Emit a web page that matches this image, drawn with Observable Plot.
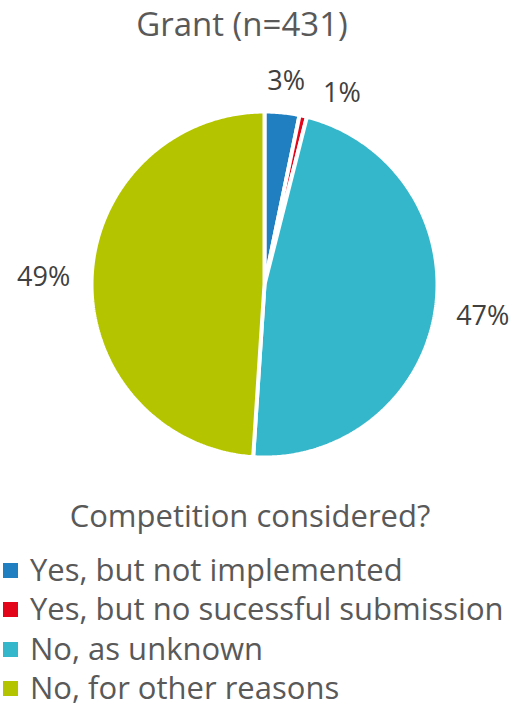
<!DOCTYPE html>
<html>
<head>
<meta charset="utf-8">
<script src="https://cdn.jsdelivr.net/npm/d3@7"></script>
<script src="https://cdn.jsdelivr.net/npm/@observablehq/plot@0.6"></script>
<style>
  html, body { margin: 0; padding: 0; background: #fff; }
  body { width: 513px; height: 707px; overflow: hidden; font-family: "Open Sans", sans-serif; color: #595959; }
  #title { height: 55px; text-align: center; font-size: 33px; line-height: 48px; padding-right: 29px; box-sizing: border-box; white-space: nowrap; }
  #legend { position: relative; }
  #legend .lt { text-align: center; font-size: 31px; line-height: 40px; padding-right: 13px; white-space: nowrap; margin-bottom: 15px; }
  #legend .row { font-size: 31px; line-height: 39.3px; white-space: nowrap; position: relative; padding-left: 30px; }
  #legend .sw { position: absolute; left: 3px; top: 13px; width: 15px; height: 15px; }
  svg { display: block; }
</style>
</head>
<body>
<div id="title"></div>
<div id="chart"></div>
<div id="legend"></div>
<script>
const chartTitle = "Grant (n=431)";
const legendTitle = "Competition considered?";
const categories = ["Yes, but not implemented", "Yes, but no sucessful submission", "No, as unknown", "No, for other reasons"];
const counts = [14, 3, 203, 211];
const colors = ["#1f7fc1", "#e3061b", "#34b7ca", "#b4c500"];

const total = d3.sum(counts);
const arcs = d3.pie().sort(null).value(d => d)(counts);

// slice outlines as polygons (center + sampled arc)
const slicePts = [];
arcs.forEach((a, i) => {
  const cat = categories[i];
  slicePts.push({cat, x: 0, y: 0});
  const n = Math.max(2, Math.ceil((a.endAngle - a.startAngle) / 0.01));
  for (let k = 0; k <= n; k++) {
    const t = a.startAngle + (a.endAngle - a.startAngle) * k / n;
    slicePts.push({cat, x: Math.sin(t), y: Math.cos(t)});
  }
  slicePts.push({cat, x: 0, y: 0});
});

// label placement: outside end, box edge a fixed gap beyond the rim
const Rpx = 173, gap = 21, fs = 27;
const labels = arcs.map((a, i) => {
  const m = (a.startAngle + a.endAngle) / 2;
  const text = Math.round(counts[i] / total * 100) + "%";
  const hw = text.length * 0.333 * fs, hh = 10;
  const s = Math.sin(m), c = Math.cos(m);
  return {
    cat: categories[i], text,
    x: (s * (Rpx + gap + hw)) / Rpx,
    y: (c * (Rpx + gap + hh)) / Rpx,
    small: counts[i] / total < 0.02
  };
});

document.getElementById("title").textContent = chartTitle;

const W = 513, H = 440;
const plot = Plot.plot({
  width: W, height: H,
  marginLeft: 91, marginRight: 76, marginTop: 56, marginBottom: 38,
  x: {domain: [-1, 1], axis: null},
  y: {domain: [-1, 1], axis: null},
  color: {domain: categories, range: colors},
  style: {fontFamily: "Open Sans, sans-serif", color: "#595959", background: "#fff"},
  marks: [
    Plot.line(slicePts, {x: "x", y: "y", z: "cat", fill: "cat", stroke: "white", strokeWidth: 4, strokeLinejoin: "miter", curve: "linear"}),
    Plot.text(labels.filter(d => !d.small), {x: "x", y: "y", text: "text", fontSize: fs, fill: "#404040"}),
    Plot.text(labels.filter(d => d.small), {x: "x", y: "y", text: "text", fontSize: fs, fill: "#404040", dx: 30, dy: 8})
  ]
});
document.getElementById("chart").appendChild(plot);

const leg = document.getElementById("legend");
const lt = document.createElement("div");
lt.className = "lt"; lt.textContent = legendTitle;
leg.appendChild(lt);
categories.forEach((c, i) => {
  const row = document.createElement("div");
  row.className = "row";
  const sw = document.createElement("span");
  sw.className = "sw"; sw.style.background = colors[i];
  row.appendChild(sw);
  row.appendChild(document.createTextNode(c));
  leg.appendChild(row);
});
</script>
</body>
</html>
